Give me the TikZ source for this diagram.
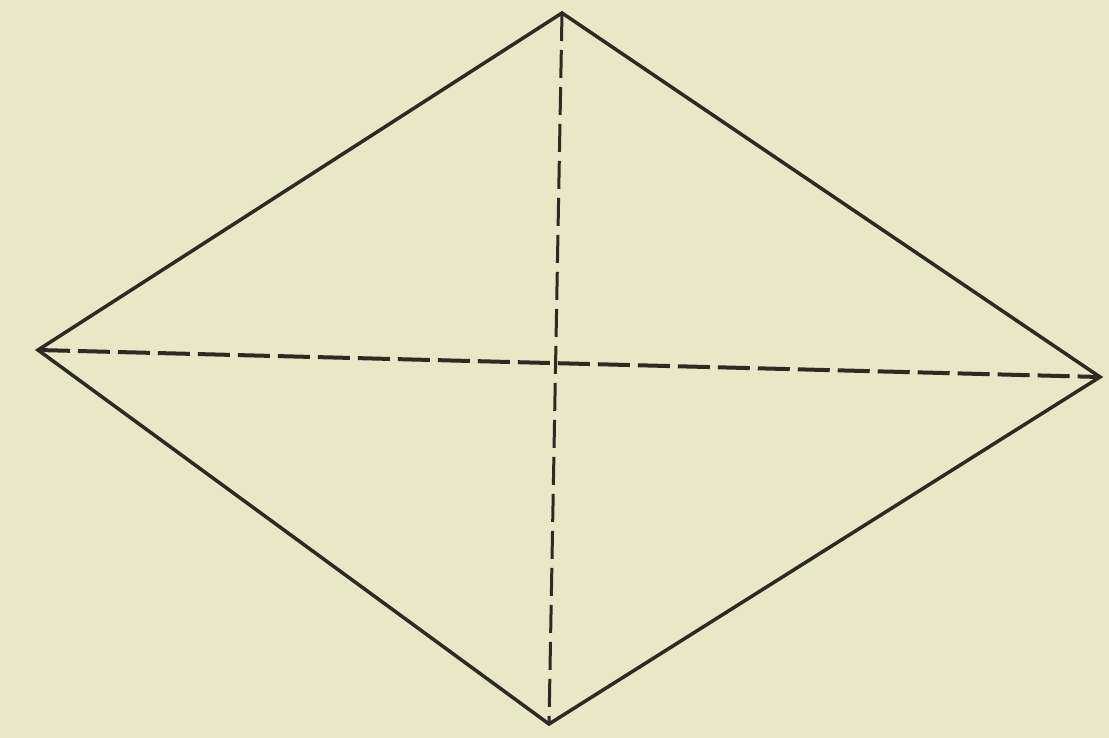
\documentclass[tikz,border=0pt]{standalone}
\definecolor{paper}{RGB}{233,231,198}
\definecolor{ink}{RGB}{45,42,32}
\begin{document}
\begin{tikzpicture}[x=1pt,y=-1pt,
  side/.style={draw=ink,line width=3.5pt,line join=miter},
  axis/.style={draw=ink,line width=3pt,dash pattern=on 28pt off 9pt}]
\fill[paper] (0,0) rectangle (1109,738);
\useasboundingbox (0,0) rectangle (1109,738);
\coordinate (T) at (562,13);
\coordinate (L) at (38,350);
\coordinate (R) at (1100,377);
\coordinate (B) at (549,724);
\draw[side] (T) -- (R) -- (B) -- (L) -- cycle;
\draw[axis] (T) -- (B);
\draw[axis,line width=4pt,dash pattern=on 32pt off 8pt] (L) -- (R);
\end{tikzpicture}
\end{document}
